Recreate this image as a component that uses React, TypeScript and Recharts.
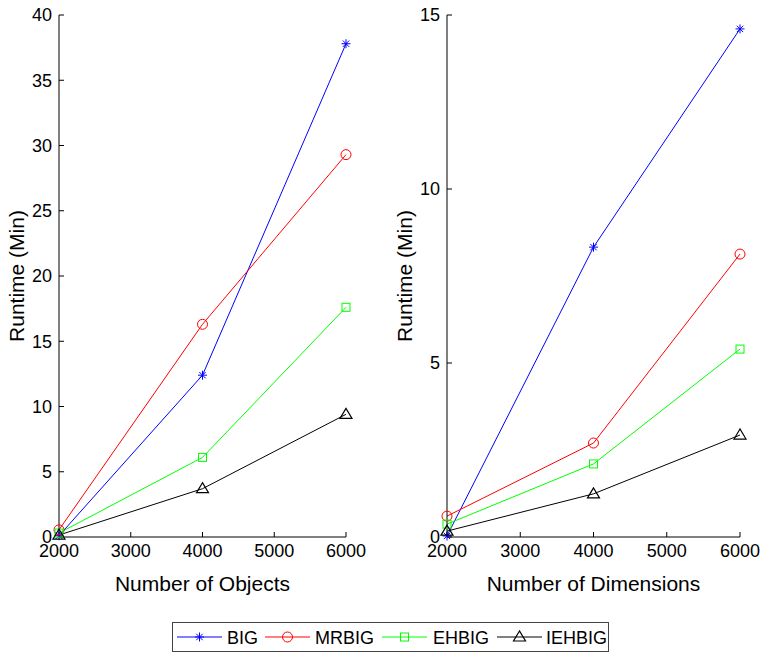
import React from "react"
import { LineChart, Line, XAxis, YAxis } from "recharts"

const sizes = [2000, 4000, 6000]
const seriesNames = ["BIG", "MRBIG", "EHBIG", "IEHBIG"]
const seriesColors = ["#0000ff", "#ff0000", "#00ff00", "#000000"]
const seriesShapes = ["star", "circle", "square", "triangle"]

// runtime (min) vs number of objects
const objBIG = [0.1, 12.4, 37.8]
const objMRBIG = [0.55, 16.3, 29.3]
const objEHBIG = [0.3, 6.1, 17.6]
const objIEHBIG = [0.15, 3.7, 9.4]

// runtime (min) vs number of dimensions
const dimBIG = [0.03, 8.33, 14.6]
const dimMRBIG = [0.6, 2.7, 8.13]
const dimEHBIG = [0.37, 2.1, 5.4]
const dimIEHBIG = [0.17, 1.24, 2.93]

const xTicks = [2000, 3000, 4000, 5000, 6000]
const objTicks = [0, 5, 10, 15, 20, 25, 30, 35, 40]
const dimTicks = [0, 5, 10, 15]

const objData = sizes.map((x, i) => ({
  x,
  BIG: objBIG[i],
  MRBIG: objMRBIG[i],
  EHBIG: objEHBIG[i],
  IEHBIG: objIEHBIG[i],
}))

const dimData = sizes.map((x, i) => ({
  x,
  BIG: dimBIG[i],
  MRBIG: dimMRBIG[i],
  EHBIG: dimEHBIG[i],
  IEHBIG: dimIEHBIG[i],
}))

const font = "'Liberation Sans', Arial, sans-serif"

function Marker({ cx, cy, shape, color }: { cx: number; cy: number; shape: string; color: string }) {
  if (shape === "star") {
    const r = 4.5
    const d = r * 0.707
    return (
      <g stroke={color} strokeWidth={1}>
        <line x1={cx - r} y1={cy} x2={cx + r} y2={cy} />
        <line x1={cx} y1={cy - r} x2={cx} y2={cy + r} />
        <line x1={cx - d} y1={cy - d} x2={cx + d} y2={cy + d} />
        <line x1={cx - d} y1={cy + d} x2={cx + d} y2={cy - d} />
      </g>
    )
  }
  if (shape === "circle") {
    return <circle cx={cx} cy={cy} r={5} fill="none" stroke={color} strokeWidth={1} />
  }
  if (shape === "square") {
    return <rect x={cx - 4} y={cy - 4} width={8} height={8} fill="none" stroke={color} strokeWidth={1} />
  }
  return (
    <polygon
      points={`${cx},${cy - 6} ${cx - 6},${cy + 4} ${cx + 6},${cy + 4}`}
      fill="none"
      stroke={color}
      strokeWidth={1.2}
    />
  )
}

function Panel({ data, yTicks, yMax, xLabel, width, marginRight }: any) {
  return (
    <LineChart
      width={width}
      height={600}
      data={data}
      margin={{ top: 15, right: marginRight, bottom: 3, left: 0 }}
      style={{ fontFamily: font }}
    >
      <XAxis
        dataKey="x"
        type="number"
        domain={[2000, 6000]}
        ticks={xTicks}
        height={60}
        stroke="#000"
        tickSize={-5}
        tickMargin={12}
        tick={{ fill: "#000", fontSize: 18 }}
        label={{ value: xLabel, position: "insideBottom", offset: 6, fill: "#000", fontSize: 21 }}
      />
      <YAxis
        type="number"
        domain={[0, yMax]}
        ticks={yTicks}
        width={59}
        stroke="#000"
        tickSize={-5}
        tickMargin={12}
        tick={{ fill: "#000", fontSize: 18 }}
        label={{
          value: "Runtime (Min)",
          angle: -90,
          position: "insideLeft",
          offset: 17,
          fill: "#000",
          fontSize: 21,
          style: { textAnchor: "middle" },
        }}
      />
      {seriesNames.map((name, i) => (
        <Line
          key={name}
          dataKey={name}
          stroke={seriesColors[i]}
          strokeWidth={1}
          isAnimationActive={false}
          dot={(p: any) => (
            <Marker key={`${name}-${p.index}`} cx={p.cx} cy={p.cy} shape={seriesShapes[i]} color={seriesColors[i]} />
          )}
        />
      ))}
    </LineChart>
  )
}

const legendItems = [
  { x: 177, tx: 227 },
  { x: 265, tx: 315 },
  { x: 382, tx: 433 },
  { x: 497, tx: 546 },
]

function LegendBox() {
  return (
    <svg width={763} height={40} style={{ position: "absolute", left: 0, top: 615 }}>
      <rect x={172.5} y={7.5} width={436} height={29} fill="#fff" stroke="#444" strokeWidth={1} />
      {seriesNames.map((name, i) => {
        const it = legendItems[i]
        return (
          <g key={name}>
            <line x1={it.x} y1={22} x2={it.x + 45} y2={22} stroke={seriesColors[i]} strokeWidth={1} />
            <Marker cx={it.x + 22.5} cy={22} shape={seriesShapes[i]} color={seriesColors[i]} />
            <text x={it.tx} y={28.5} fontFamily={font} fontSize={18} fill="#000">
              {name}
            </text>
          </g>
        )
      })}
    </svg>
  )
}

export default function App() {
  return (
    <div style={{ position: "absolute", left: 0, top: 0, width: 763, height: 652, background: "#fff" }}>
      <div style={{ position: "absolute", left: 0, top: 0 }}>
        <Panel data={objData} yTicks={objTicks} yMax={40} xLabel="Number of Objects" width={380} marginRight={34} />
      </div>
      <div style={{ position: "absolute", left: 388, top: 0 }}>
        <Panel data={dimData} yTicks={dimTicks} yMax={15} xLabel="Number of Dimensions" width={375} marginRight={23} />
      </div>
      <LegendBox />
    </div>
  )
}
